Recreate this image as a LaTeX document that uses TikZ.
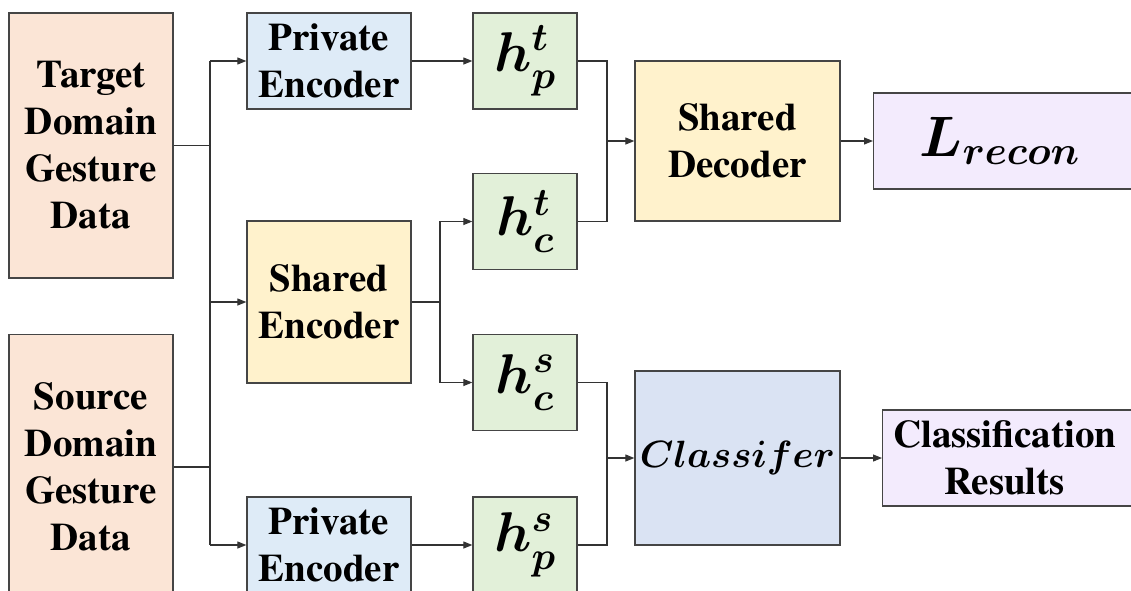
\RequirePackage{fix-cm}
\documentclass[tikz,border=0pt]{standalone}
\usepackage{fontspec}
\newfontfamily\labelfont{texgyretermes-bold.otf}
\usetikzlibrary{arrows.meta}

\definecolor{peach}{HTML}{FBE5D6}
\definecolor{paleblue}{HTML}{DEEBF7}
\definecolor{paleyellow}{HTML}{FFF2CC}
\definecolor{palegreen}{HTML}{E2F0D9}
\definecolor{greyblue}{HTML}{DAE3F3}
\definecolor{lavender}{HTML}{F3EBFD}
\definecolor{edge}{HTML}{454545}

\tikzset{
  box/.style={draw=edge, line width=1.3pt, inner sep=0pt, align=center,
    font=\labelfont\fontsize{39}{47}\selectfont},
  feat/.style={box, fill=palegreen, minimum width=104pt, minimum height=96pt,
    font=\boldmath\fontsize{56}{60}\selectfont},
  link/.style={draw=black!80, line width=1.1pt},
  arr/.style={link, -{Triangle[length=9pt,width=7pt]}},
}

\begin{document}
\begin{tikzpicture}[x=1pt, y=-1pt]
\useasboundingbox (0,0) rectangle (1131,590);
\clip (0,0) rectangle (1131,590);

% inputs
\node[box, fill=peach, minimum width=164pt, minimum height=265pt] (tgt) at (91,145.5) {Target\\Domain\\Gesture\\Data};
\node[box, fill=peach, minimum width=164pt, minimum height=265pt] (src) at (91,467) {Source\\Domain\\Gesture\\Data};

% encoders
\node[box, fill=paleblue, minimum width=164pt, minimum height=96pt] (pet) at (329,61) {Private\\Encoder};
\node[box, fill=paleyellow, minimum width=164pt, minimum height=162pt] (se) at (329,302) {Shared\\Encoder};
\node[box, fill=paleblue, minimum width=164pt, minimum height=96pt] (pes) at (329,545) {Private\\Encoder};

% feature representations
\node[feat] (hpt) at (525,61) {$h_p^t$};
\node[feat] (hct) at (525,221.5) {$h_c^t$};
\node[feat] (hcs) at (525,382.5) {$h_c^s$};
\node[feat] (hps) at (525,545) {$h_p^s$};

% decoder and classifier
\node[box, fill=paleyellow, minimum width=205pt, minimum height=160pt] (sd) at (737.5,141) {Shared\\Decoder};
\node[box, fill=greyblue, minimum width=205pt, minimum height=174pt, font=\boldmath\fontsize{38}{44}\selectfont] (cls) at (737.5,458) {$Classifer$};

% outputs
\node[box, fill=lavender, minimum width=264pt, minimum height=96pt, anchor=west, font=\boldmath\fontsize{57}{60}\selectfont] (rec) at (873,141) {\hspace*{-12pt}$L_{recon}$};
\node[box, fill=lavender, minimum width=256pt, minimum height=96pt, anchor=west] (res) at (882,458) {\hspace*{-12pt}Classification\\\hspace*{-12pt}Results};

% bus positions
\coordinate (busA) at (210,0);
\coordinate (busB) at (440,0);
\coordinate (busC) at (607,0);

% inputs to encoders
\draw[link] (tgt.east) -- (tgt.east -| busA);
\draw[link] (src.east) -- (src.east -| busA);
\draw[link] (pet.west -| busA) -- (pes.west -| busA);
\draw[arr] (pet.west -| busA) -- (pet.west);
\draw[arr] (se.west -| busA) -- (se.west);
\draw[arr] (pes.west -| busA) -- (pes.west);

% encoders to features
\draw[arr] (pet.east) -- (hpt.west);
\draw[arr] (pes.east) -- (hps.west);
\draw[link] (se.east) -- (se.east -| busB);
\draw[arr] (se.east -| busB) |- (hct.west);
\draw[arr] (se.east -| busB) |- (hcs.west);

% features to decoder
\draw[link] (hpt.east) -| (sd.west -| busC);
\draw[link] (hct.east) -| (sd.west -| busC);
\draw[arr] (sd.west -| busC) -- (sd.west);

% features to classifier
\draw[link] (hcs.east) -| (cls.west -| busC);
\draw[link] (hps.east) -| (cls.west -| busC);
\draw[arr] (cls.west -| busC) -- (cls.west);

% outputs
\draw[arr] (sd.east) -- (rec.west);
\draw[arr] (cls.east) -- (res.west);
\end{tikzpicture}
\end{document}
